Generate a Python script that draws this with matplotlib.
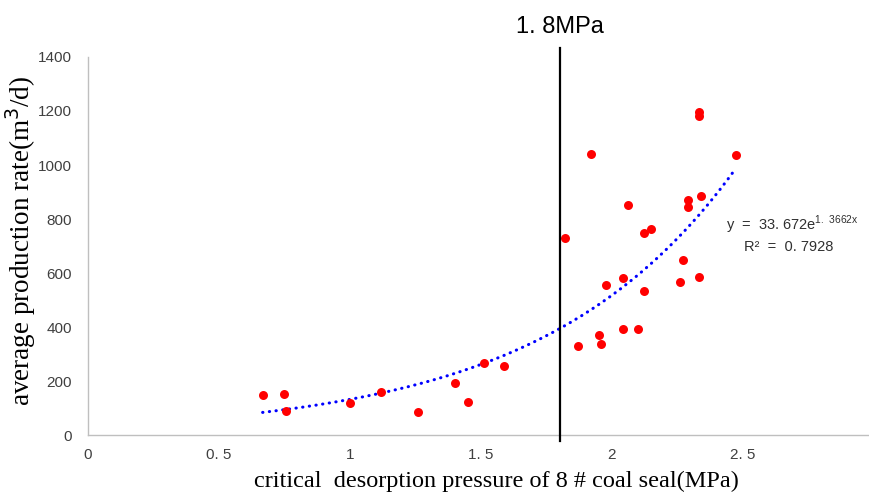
import matplotlib.pyplot as plt
import numpy as np

# critical desorption pressure (MPa) vs average production rate (m3/d)
pressure = [0.667, 0.749, 0.758, 1.000, 1.118, 1.261, 1.401, 1.450, 1.511, 1.590,
            1.821, 1.871, 1.919, 1.950, 1.959, 1.978, 2.042, 2.042, 2.061, 2.100,
            2.121, 2.121, 2.151, 2.261, 2.271, 2.291, 2.291, 2.332, 2.332, 2.332,
            2.340, 2.472]
production = [148, 152, 90, 120, 159, 85, 191, 121, 268, 256,
              731, 330, 1041, 369, 336, 554, 581, 391, 852, 394,
              749, 534, 762, 568, 647, 870, 843, 585, 1197, 1183,
              885, 1037]

fit_a = 33.672
fit_b = 1.3662
fit_r2 = 0.7928
threshold = 1.8

x_ticks = [0, 0.5, 1, 1.5, 2, 2.5]
y_ticks = [0, 200, 400, 600, 800, 1000, 1200, 1400]

sans = ["Liberation Sans", "DejaVu Sans"]
serif = ["Liberation Serif", "DejaVu Serif"]


def spaced(v):
    # Excel-style decimal point with a trailing gap, e.g. "0. 5"
    return f"{v:g}".replace(".", ". ")


fig = plt.figure(figsize=(8.7, 4.93), dpi=100)
ax = fig.add_axes([0.101, 0.1176, 0.899, 0.7668])

ax.scatter(pressure, production, s=42, color="#FF0000", zorder=3, linewidths=0)

xs = np.linspace(min(pressure), max(pressure), 200)
ax.plot(xs, fit_a * np.exp(fit_b * xs), color="#0000FF", lw=2.2,
        linestyle=(0, (0.1, 2.1)), dash_capstyle="round", zorder=2)

ax.axvline(threshold, ymin=-0.015, ymax=1.025, color="black", lw=1.6,
           clip_on=False, zorder=4)
ax.text(threshold, 1.079, spaced(threshold) + "MPa",
        transform=ax.get_xaxis_transform(), ha="center", va="center",
        fontsize=17, family=sans)

ax.text(2.435, 758, "y  =  33. 672e$^{\\mathregular{1.\\ 3662x}}$", fontsize=10.5,
        family=sans, color="#303030")
ax.text(2.505, 680, "R²  =  " + spaced(fit_r2), fontsize=10.5,
        family=sans, color="#303030")

ax.set_xlim(0, 2.985)
ax.set_ylim(0, 1400)
ax.set_xticks(x_ticks)
ax.set_xticklabels([spaced(v) for v in x_ticks],
                   family=sans, fontsize=11, color="#404040")
ax.set_yticks(y_ticks)
ax.set_yticklabels([str(v) for v in y_ticks], family=sans, fontsize=11,
                   color="#404040")
ax.tick_params(length=0)
ax.tick_params(axis="x", pad=9)
ax.tick_params(axis="y", pad=11.5)

for side in ("top", "right"):
    ax.spines[side].set_visible(False)
for side in ("left", "bottom"):
    ax.spines[side].set_color("#BFBFBF")
    ax.spines[side].set_linewidth(1.0)

ax.set_xlabel("critical  desorption pressure of 8 # coal seal(MPa)",
              family=serif, fontsize=17.5)
ax.xaxis.set_label_coords(0.523, -0.095)
ax.set_ylabel("average production rate(m$^3$/d)", family=serif, fontsize=19.5)
ax.yaxis.set_label_coords(-0.064, 0.513)

fig.savefig("out.png", dpi=100)
